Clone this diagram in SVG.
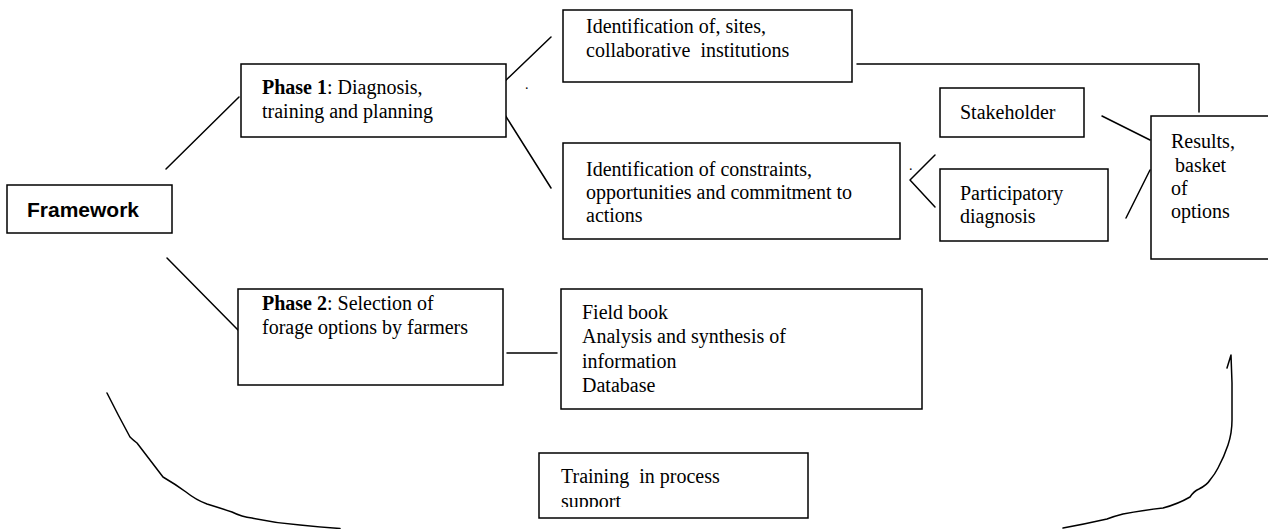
<svg xmlns="http://www.w3.org/2000/svg" width="1268" height="529" viewBox="0 0 1268 529">
<style>
.box{fill:#fff;stroke:#000;stroke-width:1.5}
.t{font-family:"Liberation Serif","Times New Roman",serif;font-size:20px;fill:#000}
.b{font-weight:bold}
.s{font-family:"Liberation Sans",Arial,sans-serif;font-size:21px;font-weight:bold;fill:#000}
.c line,.c polyline,.c path{stroke:#000;stroke-width:1.5;fill:none;stroke-linejoin:round;stroke-linecap:round}
</style>
<defs>
<clipPath id="clipTr"><rect x="539" y="453" width="270" height="54"/></clipPath>
</defs>
<g class="c" id="connectors">
<line x1="166" y1="169" x2="239" y2="97"/>
<line x1="167" y1="258" x2="238" y2="330"/>
<line x1="503" y1="83" x2="551" y2="37"/>
<line x1="505" y1="115" x2="551" y2="188"/>
<polyline points="857,64 1199,64 1199,112"/>
<line x1="1102" y1="116" x2="1150" y2="140"/>
<line x1="1126" y1="218" x2="1150" y2="170"/>
<polyline points="935,155 910,180 935,207"/>
<line x1="507" y1="353" x2="557" y2="353"/>
<path d="M107,393 Q118,415 130,437 Q133,440 137,443 Q150,460 163,477 Q175,484 186,492 Q196,500 207,504 Q220,508 232,512 Q242,517 252,518 Q275,523 300,525 Q320,527 340,528.5"/>
<path d="M1063,528 Q1085,524 1107,519 Q1115,516 1123,514 Q1145,510 1163,508 Q1178,504 1190,497 Q1194,491 1199,489 Q1207,485 1210,480 Q1215,474 1218,468 Q1224,457 1228,445 Q1232,433 1232,420 L1232,383 L1231,355 L1227,368"/>
</g>
<g id="framework">
<rect class="box" x="7" y="185" width="165" height="48"/>
<text class="s" x="27" y="217">Framework</text>
</g>
<g id="phase1">
<rect class="box" x="241" y="64" width="265" height="73"/>
<text class="t" x="262" y="94"><tspan class="b">Phase 1</tspan>: Diagnosis,</text>
<text class="t" x="262" y="118">training and planning</text>
</g>
<text class="t" x="525" y="89" style="font-size:14px">.</text>
<g id="sites">
<rect class="box" x="563" y="10" width="289" height="72"/>
<text class="t" x="586" y="33">Identification of, sites,</text>
<text class="t" x="586" y="57" xml:space="preserve">collaborative  institutions</text>
</g>
<g id="constraints">
<rect class="box" x="563" y="143" width="337" height="96"/>
<text class="t" x="586" y="176">Identification of constraints,</text>
<text class="t" x="586" y="199">opportunities and commitment to</text>
<text class="t" x="586" y="222">actions</text>
</g>
<text class="t" x="909" y="170" style="font-size:14px">.</text>
<g id="stakeholder">
<rect class="box" x="940" y="88" width="144" height="49"/>
<text class="t" x="960" y="119">Stakeholder</text>
</g>
<g id="participatory">
<rect class="box" x="940" y="169" width="168" height="72"/>
<text class="t" x="960" y="200">Participatory</text>
<text class="t" x="960" y="223">diagnosis</text>
</g>
<g id="results">
<rect class="box" x="1151" y="116" width="118" height="143"/>
<text class="t" x="1171" y="148">Results,</text>
<text class="t" x="1175" y="172">basket</text>
<text class="t" x="1171" y="195">of</text>
<text class="t" x="1171" y="218">options</text>
</g>
<g id="phase2">
<rect class="box" x="238" y="289" width="265" height="96"/>
<text class="t" x="262" y="310"><tspan class="b">Phase 2</tspan>: Selection of</text>
<text class="t" x="262" y="334">forage options by farmers</text>
</g>
<g id="fieldbook">
<rect class="box" x="561" y="289" width="361" height="120"/>
<text class="t" x="582" y="319">Field book</text>
<text class="t" x="582" y="343">Analysis and synthesis of</text>
<text class="t" x="582" y="368">information</text>
<text class="t" x="582" y="392">Database</text>
</g>
<g id="training">
<rect class="box" x="539" y="453" width="269" height="65"/>
<text class="t" x="561" y="483" xml:space="preserve">Training  in process</text>
<text class="t" x="561" y="508" clip-path="url(#clipTr)">support</text>
</g>
</svg>
